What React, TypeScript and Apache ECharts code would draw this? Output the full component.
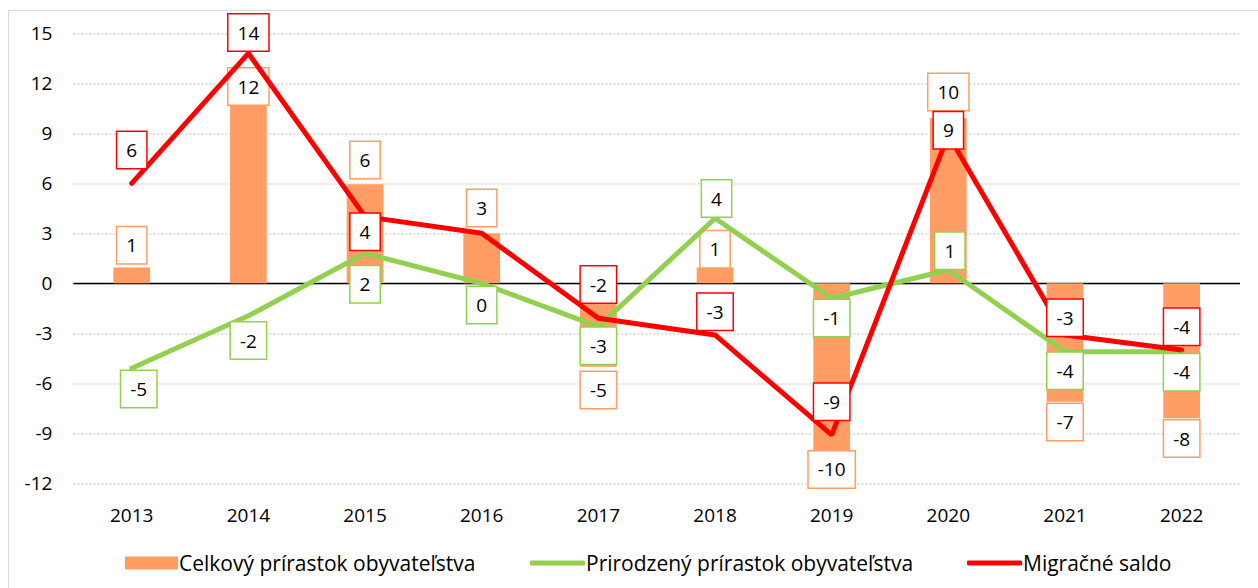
import React, { useEffect, useRef } from 'react';
import * as echarts from 'echarts';

// ---------- data ----------
const years = ['2013', '2014', '2015', '2016', '2017', '2018', '2019', '2020', '2021', '2022'];
const totalGrowth = [0.95, 11.85, 5.95, 3.0, -5.0, 0.95, -10.1, 9.9, -7.1, -8.1];
const naturalGrowth = [-5.1, -1.95, 1.8, 0.0, -2.6, 3.9, -0.9, 0.8, -4.1, -4.1];
const migrationBalance = [6.0, 13.8, 4.0, 3.0, -2.1, -3.1, -9.1, 8.9, -3.1, -4.0];

const seriesNames = [
  'Celkový prírastok obyvateľstva',
  'Prirodzený prírastok obyvateľstva',
  'Migračné saldo',
];
const yMin = -12;
const yMax = 15;
const yInterval = 3;

// ---------- label placement (pixel shifts, layout only) ----------
const totalLabelShift = [-4.25, 18.75, -6.25, -7.25, 5.25, -0.25, -0.25, -8.25, 2.25, 2.25];
const naturalLabelShiftX = [7, 0, 0, 0, 0, 1.5, 0, 1.5, 0, 0];
const naturalLabelShiftY = [20.7, 24.8, 31, 21.8, 19, -19.8, 19.8, -19.2, 19.2, 20.5];
const migrationLabelShiftY = [-33.2, -20.7, 15.2, null, -33.8, -23.2, -33.2, -4.6, -17.2, -23.2];

const FONT = "'Open Sans', 'Noto Sans', sans-serif";
const ORANGE = '#FF9D65';
const GREEN = '#92D050';
const RED = '#FF0000';

const boxLabel = (color: string) => ({
  show: true,
  color: '#000',
  fontSize: 19,
  fontFamily: FONT,
  lineHeight: 22,
  backgroundColor: '#fff',
  borderColor: color,
  borderWidth: 1.5,
  padding: [7, 9],
  formatter: (p: any) => String(Math.round(p.value) === 0 ? 0 : Math.round(p.value)),
});

export default function App() {
  const ref = useRef<HTMLDivElement>(null);

  useEffect(() => {
    if (!ref.current) return;
    const chart = echarts.init(ref.current, null, { renderer: 'svg' });

    const barData = totalGrowth.map((v, i) => ({
      value: v,
      label: {
        ...boxLabel(ORANGE),
        position: v >= 0 ? 'top' : 'bottom',
        distance: 0,
        offset: [0, totalLabelShift[i]],
      },
    }));

    const greenData = naturalGrowth.map((v, i) => ({
      value: v,
      label: {
        ...boxLabel(GREEN),
        position: 'inside',
        offset: [naturalLabelShiftX[i], naturalLabelShiftY[i]],
      },
    }));

    const redData = migrationBalance.map((v, i) => {
      const dy = migrationLabelShiftY[i];
      return {
        value: v,
        label:
          dy === null
            ? { show: false }
            : { ...boxLabel(RED), position: 'inside', offset: [0, dy] },
      };
    });

    const legendBase = {
      top: 546,
      orient: 'horizontal',
      selectedMode: false,
      textStyle: {
        fontSize: 21,
        fontFamily: FONT,
        color: '#000',
        lineHeight: 24,
        padding: [0, 0, 0, -4],
      },
    };

    chart.setOption({
      animation: false,
      backgroundColor: '#fff',
      textStyle: { fontFamily: FONT },
      graphic: [
        {
          type: 'rect',
          shape: { x: 8.5, y: 10.5, width: 1262, height: 600 },
          style: { fill: 'none', stroke: '#d9d9d9', lineWidth: 1 },
          silent: true,
          z: -1,
        },
      ],
      grid: { left: 73.4, right: 18, top: 33.3, bottom: 104.7, containLabel: false },
      legend: [
        {
          ...legendBase,
          left: 120,
          itemWidth: 53,
          itemHeight: 13,
          data: [{ name: seriesNames[0], icon: 'rect' }],
        },
        {
          ...legendBase,
          left: 525,
          itemWidth: 55,
          itemHeight: 5,
          data: [{ name: seriesNames[1], icon: 'roundRect' }],
        },
        {
          ...legendBase,
          left: 962,
          itemWidth: 55,
          itemHeight: 5,
          data: [{ name: seriesNames[2], icon: 'roundRect' }],
        },
      ],
      xAxis: {
        type: 'category',
        data: years,
        boundaryGap: true,
        axisLine: { show: false, onZero: false },
        axisTick: { show: false },
        axisLabel: { fontSize: 19, color: '#000', fontFamily: FONT, margin: 22 },
        splitLine: { show: false },
      },
      yAxis: {
        type: 'value',
        min: yMin,
        max: yMax,
        interval: yInterval,
        axisLine: { show: false },
        axisTick: { show: false },
        axisLabel: { fontSize: 19, color: '#000', fontFamily: FONT, margin: 21 },
        splitLine: { show: true, lineStyle: { color: '#d4d4d4', type: [2, 2], width: 1.5 } },
      },
      series: [
        {
          name: seriesNames[0],
          type: 'bar',
          data: barData,
          barWidth: '31.5%',
          itemStyle: { color: ORANGE },
          markLine: {
            silent: true,
            symbol: ['none', 'none'],
            label: { show: false },
            lineStyle: { color: '#000', width: 1.3, type: 'solid' },
            data: [{ yAxis: 0 }],
            z: 2,
          },
        },
        {
          name: seriesNames[1],
          type: 'line',
          data: greenData,
          symbol: 'circle',
          symbolSize: 1,
          showSymbol: true,
          itemStyle: { color: GREEN },
          lineStyle: { color: GREEN, width: 5, cap: 'round' },
        },
        {
          name: seriesNames[2],
          type: 'line',
          data: redData,
          symbol: 'circle',
          symbolSize: 1,
          showSymbol: true,
          itemStyle: { color: RED },
          lineStyle: { color: RED, width: 5, cap: 'round' },
        },
      ],
    });

    return () => chart.dispose();
  }, []);

  return (
    <div
      ref={ref}
      style={{ position: 'absolute', left: 0, top: 0, width: 1258, height: 588 }}
    />
  );
}
